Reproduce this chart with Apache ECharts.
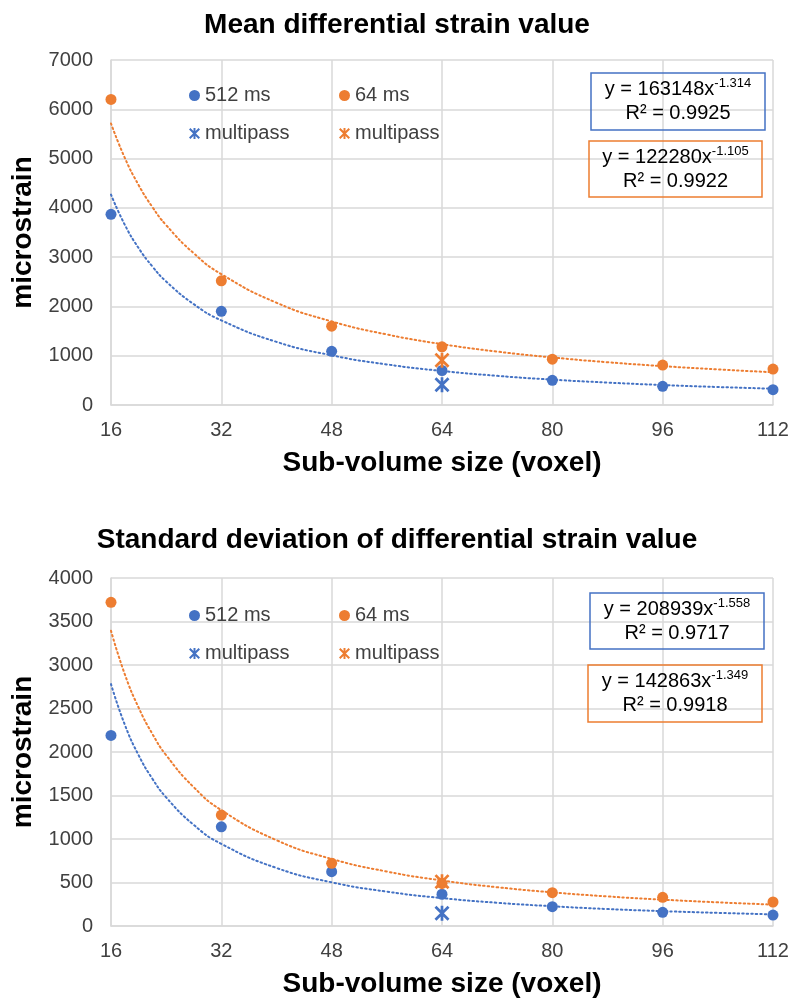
<!DOCTYPE html>
<html>
<head>
<meta charset="utf-8">
<script src="https://cdn.jsdelivr.net/npm/echarts@6/dist/echarts.min.js"></script>
<style>
  html, body { margin: 0; padding: 0; background: #fff; }
  #chart { width: 794px; height: 1003px; }
</style>
</head>
<body>
<div id="chart"></div>
<script>
// sub-volume sizes (voxel)
const sizes = [16, 32, 48, 64, 80, 96, 112];
const multiX = [64];

// mean differential strain (microstrain)
const meanSlow = [3870, 1900, 1090, 700, 500, 380, 310];   // 512 ms
const meanFast = [6200, 2520, 1600, 1180, 930, 810, 730];  // 64 ms
const meanMultiSlow = [410];
const meanMultiFast = [910];

// standard deviation of differential strain (microstrain)
const sdSlow = [2190, 1140, 625, 365, 222, 157, 126];
const sdFast = [3720, 1275, 720, 490, 383, 330, 276];
const sdMultiSlow = [146];
const sdMultiFast = [510];

// power trendlines, values
const trendX = [16, 18, 20, 22, 24, 28, 32, 40, 48, 56, 64, 72, 80, 88, 96, 104, 112];
const meanSlowTrend = [4269, 3657, 3185, 2810, 2506, 2046, 1717, 1281, 1008, 823, 691, 592, 515, 455, 405, 365, 331];
const meanFastTrend = [5712, 5015, 4464, 4017, 3649, 3078, 2655, 2075, 1696, 1431, 1235, 1084, 965, 868, 789, 722, 665];
const sdSlowTrend = [2780, 2314, 1964, 1693, 1478, 1162, 944, 667, 502, 395, 321, 267, 227, 195, 171, 151, 134];
const sdFastTrend = [3393, 2894, 2511, 2208, 1963, 1595, 1332, 986, 771, 626, 523, 446, 387, 340, 303, 272, 246];

const BLUE = "#4472C4";
const ORANGE = "#ED7D31";
const FONT = "'Liberation Sans', Arial, sans-serif";
const star = "path://M4.1,0L5.9,0L5.9,10L4.1,10ZM0,1.3L1.3,0L10,8.7L8.7,10ZM8.7,0L10,1.3L1.3,10L0,8.7Z";

function pairs(xs, ys) {
  return xs.map((x, i) => [x, ys[i]]);
}

function xAxisFor(gridIndex) {
  return {
    gridIndex: gridIndex,
    type: "value",
    min: 16,
    max: 112,
    interval: 16,
    name: "Sub-volume size (voxel)",
    nameLocation: "middle",
    nameGap: 44,
    nameTextStyle: { fontFamily: FONT, fontSize: 28, fontWeight: "bold", color: "#000" },
    axisLine: { show: true, lineStyle: { color: "#d9d9d9", width: 1.5 } },
    axisTick: { show: false },
    axisLabel: { fontFamily: FONT, fontSize: 20, color: "#404040", margin: 15 },
    splitLine: { show: true, lineStyle: { color: "#d9d9d9", width: 1.5 } }
  };
}

function yAxisFor(gridIndex, max, interval) {
  return {
    gridIndex: gridIndex,
    type: "value",
    min: 0,
    max: max,
    interval: interval,
    name: "microstrain",
    nameLocation: "middle",
    nameGap: 72,
    nameTextStyle: { fontFamily: FONT, fontSize: 28, fontWeight: "bold", color: "#000" },
    axisLine: { show: true, lineStyle: { color: "#d9d9d9", width: 1.5 } },
    axisTick: { show: false },
    axisLabel: {
      fontFamily: FONT, fontSize: 20, color: "#404040", margin: 18,
      formatter: function (v) { return String(v); }
    },
    splitLine: { show: true, lineStyle: { color: "#d9d9d9", width: 1.5 } }
  };
}

function seriesFor(idx, slow, fast, mSlow, mFast, tSlow, tFast) {
  const trend = (data, color) => ({
    type: "line",
    xAxisIndex: idx,
    yAxisIndex: idx,
    data: data,
    smooth: true,
    showSymbol: false,
    symbol: "none",
    silent: true,
    z: 2,
    lineStyle: { color: color, width: 2, type: [1.5, 3], cap: "round" }
  });
  const dots = (name, data, color, symbol, size) => ({
    name: name,
    type: "scatter",
    xAxisIndex: idx,
    yAxisIndex: idx,
    data: data,
    symbol: symbol,
    symbolSize: size,
    z: 3,
    itemStyle: { color: color, opacity: 1 }
  });
  return [
    trend(pairs(trendX, tSlow), BLUE),
    trend(pairs(trendX, tFast), ORANGE),
    dots("512 ms", pairs(sizes, slow), BLUE, "circle", 11),
    dots("64 ms", pairs(sizes, fast), ORANGE, "circle", 11),
    dots("multipass 512", pairs(multiX, mSlow), BLUE, star, 15),
    dots("multipass 64", pairs(multiX, mFast), ORANGE, star, 15)
  ];
}

function legendFor(left, top, names) {
  return {
    orient: "vertical",
    left: left,
    top: top,
    itemWidth: 11,
    itemHeight: 11,
    itemGap: 17,
    selectedMode: false,
    textStyle: { fontFamily: FONT, fontSize: 20, color: "#404040", lineHeight: 21 },
    formatter: function (name) {
      return name.indexOf("multipass") === 0 ? "multipass" : name;
    },
    data: names
  };
}

function eqBox(x, y, w, h, color, coef, expo, r2) {
  return [
    {
      type: "rect",
      z: 50,
      shape: { x: x, y: y, width: w, height: h },
      style: { fill: "none", stroke: color, lineWidth: 1.5 }
    },
    {
      type: "text",
      z: 51,
      x: x + w / 2,
      y: y + 4,
      style: {
        text: "{a|y = " + coef + "x}{s|" + expo + "}\n{a|R² = " + r2 + "}",
        align: "center",
        verticalAlign: "top",
        rich: {
          a: { fontFamily: FONT, fontSize: 20, color: "#404040", lineHeight: 24 },
          s: { fontFamily: FONT, fontSize: 13, color: "#404040", lineHeight: 24, verticalAlign: "top", padding: [0, 0, 9, 0] }
        }
      }
    }
  ];
}

const chart = echarts.init(document.getElementById("chart"));

const option = {
  backgroundColor: "#fff",
  animation: false,
  title: [
    {
      text: "Mean differential strain value",
      left: "center",
      top: 6,
      textStyle: { fontFamily: FONT, fontSize: 28, fontWeight: "bold", color: "#000" }
    },
    {
      text: "Standard deviation of differential strain value",
      left: "center",
      top: 521,
      textStyle: { fontFamily: FONT, fontSize: 28, fontWeight: "bold", color: "#000" }
    }
  ],
  grid: [
    { left: 111, right: 21, top: 60, height: 345 },
    { left: 111, right: 21, top: 578, height: 348 }
  ],
  xAxis: [xAxisFor(0), xAxisFor(1)],
  yAxis: [yAxisFor(0, 7000, 1000), yAxisFor(1, 4000, 500)],
  legend: [
    legendFor(184, 80, ["512 ms", { name: "multipass 512", icon: star }]),
    legendFor(334, 80, ["64 ms", { name: "multipass 64", icon: star }]),
    legendFor(184, 600, ["512 ms", { name: "multipass 512", icon: star }]),
    legendFor(334, 600, ["64 ms", { name: "multipass 64", icon: star }])
  ],
  graphic: [].concat(
    eqBox(591, 73, 174, 57, BLUE, "163148", "-1.314", "0.9925"),
    eqBox(589, 141, 173, 56, ORANGE, "122280", "-1.105", "0.9922"),
    eqBox(590, 593, 174, 56, BLUE, "208939", "-1.558", "0.9717"),
    eqBox(588, 665, 174, 57, ORANGE, "142863", "-1.349", "0.9918")
  ),
  series: [].concat(
    seriesFor(0, meanSlow, meanFast, meanMultiSlow, meanMultiFast, meanSlowTrend, meanFastTrend),
    seriesFor(1, sdSlow, sdFast, sdMultiSlow, sdMultiFast, sdSlowTrend, sdFastTrend)
  )
};

chart.setOption(option);
window.addEventListener("resize", function () {
  chart.resize();
});
</script>
</body>
</html>
